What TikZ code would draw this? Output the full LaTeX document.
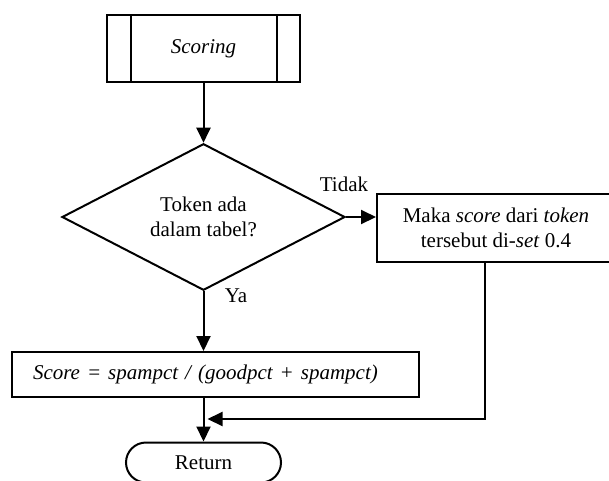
\documentclass[tikz,border=0pt]{standalone}
\usepackage{fontspec}
\setmainfont{Liberation Serif}
\usepackage{tikz}
\usetikzlibrary{arrows.meta, shapes.geometric}

\begin{document}
\begin{tikzpicture}[x=1pt,y=-1pt,line width=2pt,
        every node/.style={font=\fontsize{21}{25}\selectfont},
        arr/.style={-{Triangle[length=15pt,width=14pt]}},
        proc node/.style={rectangle,draw,minimum width=193pt,minimum height=67pt},
        cond node/.style={diamond,draw,minimum width=283pt,minimum height=134pt,inner sep=0pt,align=center},
        main node/.style={rectangle,draw,align=center},
        end node/.style={rectangle,draw,rounded corners=20pt,minimum width=155pt,minimum height=40pt}]
        \useasboundingbox (0,0) rectangle (609,480);

        \node[proc node] (scoring) at (203.5,48.5) {\textit{Scoring}};
        \draw ([xshift=25pt]scoring.north west) -- ([xshift=25pt]scoring.south west);
        \draw ([xshift=-24pt]scoring.north east) -- ([xshift=-24pt]scoring.south east);

        \node[cond node] (cek) at (203.5,217) {Token ada\\dalam tabel?};
        \node[main node,minimum width=238pt,minimum height=68pt] (set) at (496,228)
            {Maka \textit{score} dari \textit{token}\\tersebut di-\textit{set} 0.4};
        \node[main node,minimum height=45pt,text width=365pt,inner xsep=21pt,align=left] (score) at (215.5,374.5)
            {\textit{Score = spampct / (goodpct + spampct)}};
        \node[end node] (ret) at (203.5,462.5) {Return};

        \node (tidak) at (344,184) {Tidak};
        \node (ya) at (236,296) {Ya};
        \coordinate (fb) at (485,419);

        % alur
        \draw[arr] (scoring) -- (cek);
        \draw[arr] (cek.east) -- (cek.east -| set.west);
        \draw[arr] (cek.south) -- (cek.south |- score.north);
        \draw[arr] (score.south -| ret.north) -- (ret.north);
        \draw[arr] (set.south -| fb) -- (fb) -- ([xshift=4pt]fb -| ret.north);
    \end{tikzpicture}
\end{document}
